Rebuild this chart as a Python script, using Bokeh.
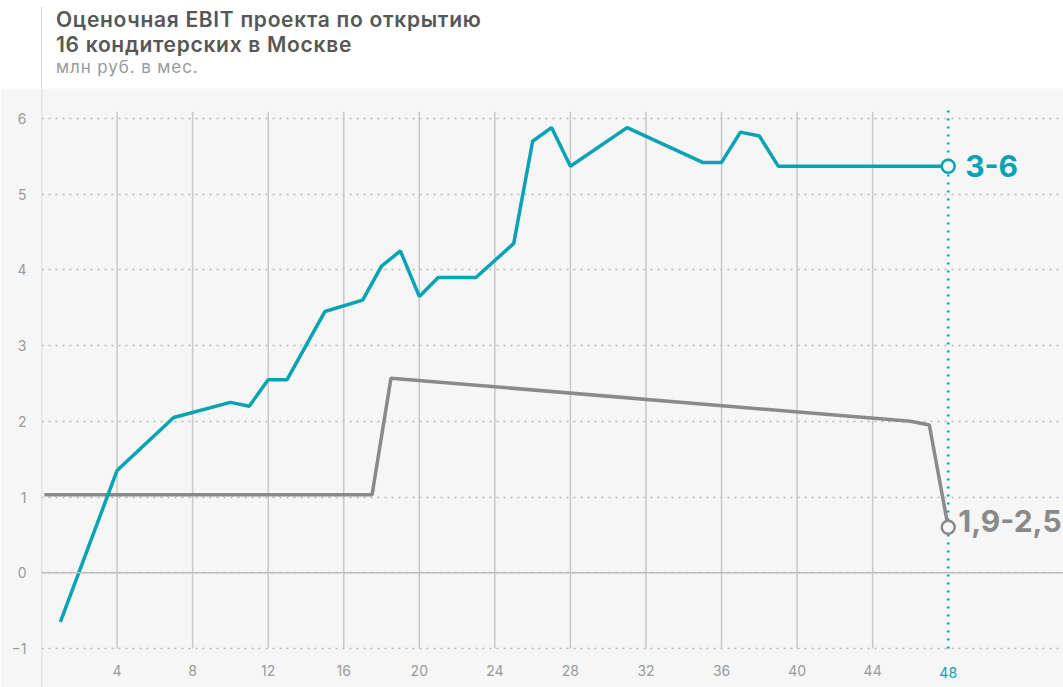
from bokeh.plotting import figure
from bokeh.models import Div, Span, FixedTicker, Range1d
from bokeh.layouts import column
from bokeh.core.properties import value
from bokeh.embed import file_html
from bokeh.resources import INLINE

# ---- data ----
title_lines = ["Оценочная EBIT проекта по открытию", "16 кондитерских в Москве"]
subtitle = "млн руб. в мес."

teal_x = [1, 4, 7, 10, 11, 12, 13, 15, 17, 18, 19, 20, 21, 23, 25, 26, 27, 28, 31, 35, 36, 37, 38, 39, 48]
teal_y = [-0.65, 1.35, 2.05, 2.25, 2.2, 2.55, 2.55, 3.45, 3.6, 4.05, 4.25, 3.65, 3.9, 3.9, 4.35,
          5.7, 5.88, 5.37, 5.88, 5.42, 5.42, 5.82, 5.77, 5.37, 5.37]
teal_label = "3-6"

gray_x = [0.15, 17.5, 18.5, 46, 47, 48]
gray_y = [1.03, 1.03, 2.57, 2.0, 1.95, 0.6]
gray_label = "1,9-2,5"

x_ticks = [4, 8, 12, 16, 20, 24, 28, 32, 36, 40, 44, 48]
y_ticks = [-1, 0, 1, 2, 3, 4, 5, 6]

TEAL = "#05a3b4"
GRAY = "#8a8a8a"
BG = "#f6f6f6"
FONT = "Inter"

W = 1063
HEAD = 88
H = 687 - HEAD
LEFT = 41
PX_PER_X = 18.89
PX_PER_Y = 75.7
x_end = (W - LEFT) / PX_PER_X
y_end = 6 + 30 / PX_PER_Y
y_start = y_end - H / PX_PER_Y

div = Div(
    text=(
        '<div style="padding-top:7px;font-family:Inter,sans-serif;">'
        '<div style="margin-left:41px;border-left:1.5px solid #d0d0d0;padding-left:14px;'
        'height:81px;box-sizing:border-box;">'
        '<div style="font-size:21px;font-weight:600;color:#575757;line-height:25px;'
        'letter-spacing:0.7px;white-space:nowrap;">'
        + title_lines[0] + '<br>' + title_lines[1] + '</div>'
        '<div style="font-size:17px;color:#9a9a9a;line-height:21px;letter-spacing:0.9px;">'
        + subtitle + '</div></div></div>'
    ),
    width=W, height=HEAD, margin=0,
)

p = figure(
    width=W, height=H,
    x_range=Range1d(0, x_end), y_range=Range1d(y_start, y_end),
    output_backend="svg", toolbar_location=None,
    min_border_left=LEFT, min_border_right=0, min_border_top=0, min_border_bottom=0,
    background_fill_color=BG, border_fill_color=BG, outline_line_color=None,
)

# axes
p.xaxis.ticker = FixedTicker(ticks=x_ticks)
p.xaxis.major_label_overrides = {48: ""}
p.xaxis.fixed_location = -1
p.yaxis.ticker = FixedTicker(ticks=y_ticks)
for ax in (p.xaxis, p.yaxis):
    ax.axis_line_color = None
    ax.major_tick_line_color = None
    ax.minor_tick_line_color = None
    ax.major_tick_in = 0
    ax.major_tick_out = 0
    ax.major_label_text_color = "#9a9a9a"
    ax.major_label_text_font = FONT
    ax.major_label_text_font_size = "14px"
p.xaxis.major_label_standoff = 17
p.yaxis.major_label_standoff = 15

# grids
p.xgrid.visible = False
p.ygrid.ticker = FixedTicker(ticks=y_ticks)
p.ygrid.grid_line_color = "#b8b8b8"
p.ygrid.grid_line_dash = "2 5"
p.ygrid.grid_line_width = 1.5

p.add_layout(Span(location=0, dimension="width", line_color="#bdbdbd", line_width=1.5))
p.add_layout(Span(location=0, dimension="height", line_color="#d0d0d0", line_width=1.5))

vx = x_ticks[:-1]
p.segment(x0=vx, y0=[-1] * len(vx), x1=vx, y1=[6.09] * len(vx), line_color="#c8c8c8", line_width=1.5)
p.segment(x0=[x_ticks[-1]], y0=[-1], x1=[x_ticks[-1]], y1=[6.15], line_color=TEAL,
          line_width=2.5, line_dash="2 6")

# series
p.line(gray_x, gray_y, line_color=GRAY, line_width=3.5)
p.line(teal_x, teal_y, line_color=TEAL, line_width=3.5)

p.scatter([gray_x[-1]], [gray_y[-1]], size=13, fill_color=BG, line_color=GRAY, line_width=2.5)
p.scatter([teal_x[-1]], [teal_y[-1]], size=13, fill_color=BG, line_color=TEAL, line_width=2.5)

p.text(x=[teal_x[-1]], y=[teal_y[-1]], text=[teal_label], x_offset=17, text_baseline="middle",
       text_font=value(FONT), text_font_style="bold", text_font_size="30px", text_color=TEAL)
p.text(x=[gray_x[-1]], y=[gray_y[-1]], text=[gray_label], x_offset=10, y_offset=-6, text_baseline="middle",
       text_font=value(FONT), text_font_style="bold", text_font_size="30px", text_color=GRAY)

# highlighted last tick label
p.text(x=[x_ticks[-1]], y=[-1], text=[str(x_ticks[-1])], y_offset=24, text_align="center",
       text_baseline="middle", text_font=value(FONT), text_font_size="14px", text_color=TEAL)

layout = column(div, p, spacing=0)
open("out.html", "w").write(file_html(layout, INLINE))
